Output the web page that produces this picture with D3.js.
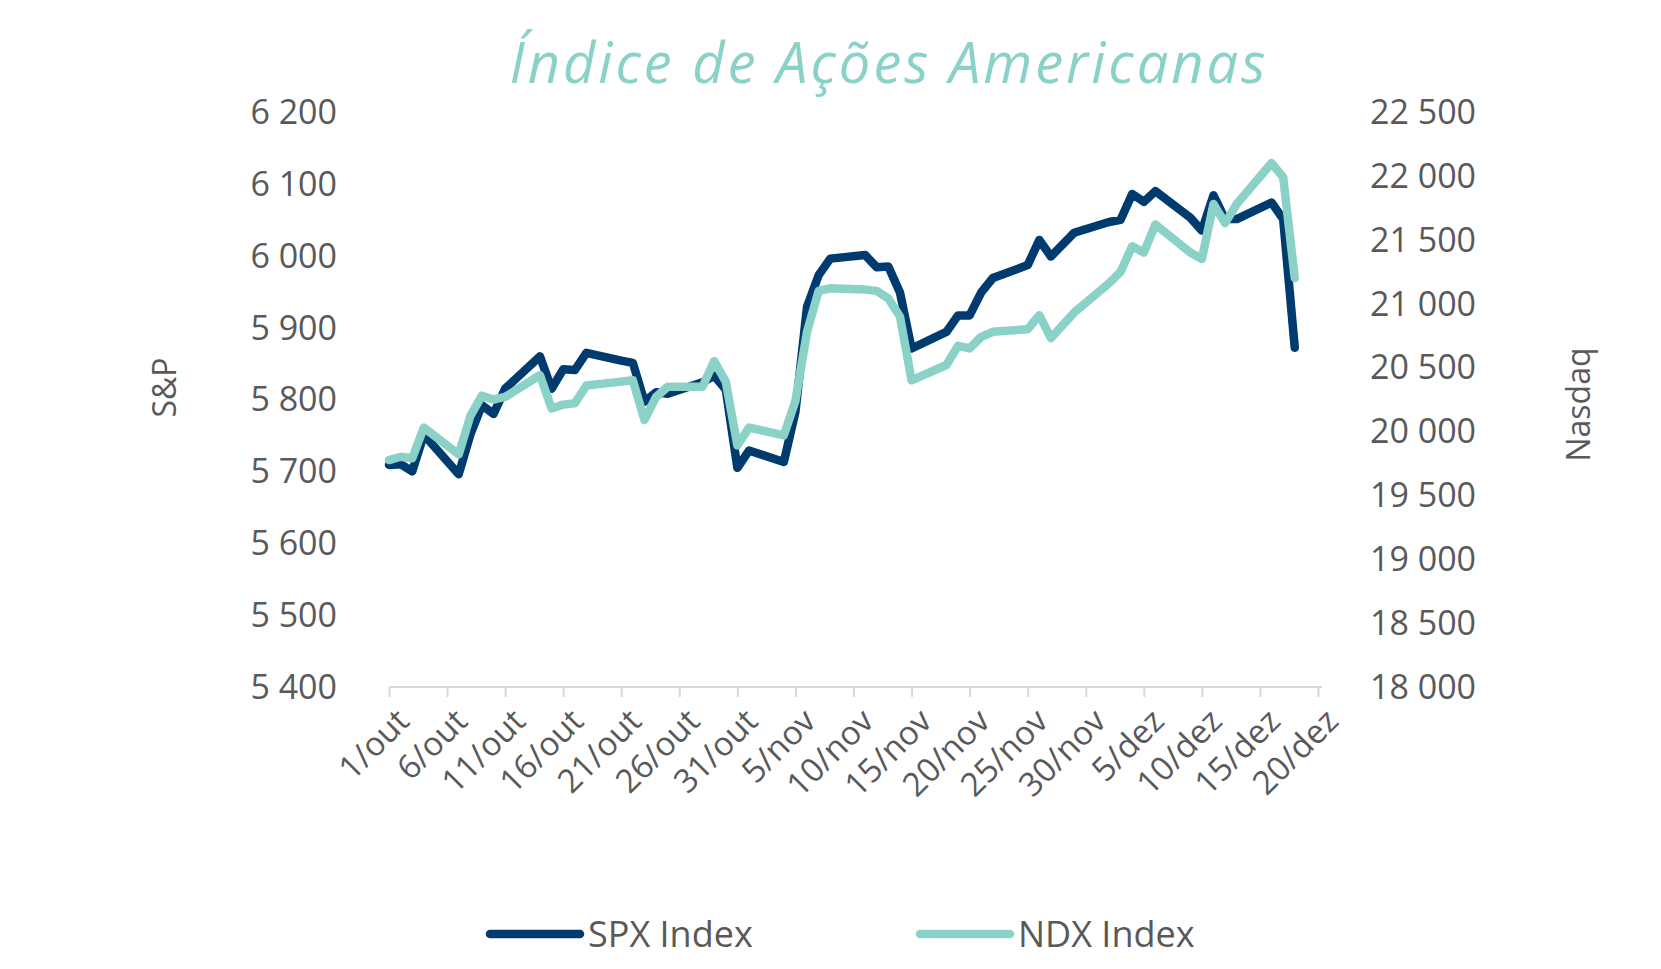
<!DOCTYPE html>
<html>
<head>
<meta charset="utf-8">
<script src="https://cdn.jsdelivr.net/npm/d3@7"></script>
<style>
  body { margin: 0; background: #fff; }
  text { font-family: "Open Sans", sans-serif; }
</style>
</head>
<body>
<svg id="chart" width="1661" height="969"></svg>
<script>
// trading days, 2024
const dates = ["10-01","10-02","10-03","10-04","10-07","10-08","10-09","10-10","10-11",
  "10-14","10-15","10-16","10-17","10-18","10-21","10-22","10-23","10-24","10-25",
  "10-28","10-29","10-30","10-31","11-01","11-04","11-05","11-06","11-07","11-08",
  "11-11","11-12","11-13","11-14","11-15","11-18","11-19","11-20","11-21","11-22",
  "11-25","11-26","11-27","11-29","12-02","12-03","12-04","12-05","12-06",
  "12-09","12-10","12-11","12-12","12-13","12-16","12-17","12-18"];

const spx = [5709,5710,5700,5751,5696,5751,5792,5780,5815,
  5860,5815,5842,5841,5865,5854,5851,5797,5810,5808,
  5824,5833,5814,5705,5729,5713,5783,5929,5973,5996,
  6001,5984,5985,5949,5871,5894,5917,5917,5949,5969,
  5987,6022,5999,6032,6047,6050,6086,6075,6090,
  6053,6035,6084,6051,6051,6074,6051,5872];

const ndx = [19776,19802,19790,20030,19820,20120,20280,20250,20270,
  20440,20180,20210,20220,20360,20390,20400,20090,20270,20350,
  20350,20550,20390,19890,20030,19970,20240,20780,21100,21120,
  21110,21100,21040,20900,20400,20520,20670,20650,20740,20780,
  20800,20910,20730,20930,21160,21250,21450,21400,21620,
  21400,21350,21780,21630,21780,22100,21990,21200];

const xTickLabels = ["1/out","6/out","11/out","16/out","21/out","26/out","31/out","5/nov",
  "10/nov","15/nov","20/nov","25/nov","30/nov","5/dez","10/dez","15/dez","20/dez"];

const leftTicks = [5400,5500,5600,5700,5800,5900,6000,6100,6200];
const rightTicks = [18000,18500,19000,19500,20000,20500,21000,21500,22000,22500];

const parse = d3.timeParse("%Y-%m-%d");
const days = dates.map(d => parse("2024-" + d));
const start = parse("2024-10-01");

const svg = d3.select("#chart");
const plotLeft = 389, plotRight = 1318, plotTop = 112, plotBottom = 687;
const gray = "#595959";
const fmt = v => d3.format(",")(v).replace(/,/g, " ");

const x = d3.scaleTime().domain([start, d3.timeDay.offset(start, 80)]).range([plotLeft, plotRight]);
const yL = d3.scaleLinear().domain([5400, 6200]).range([plotBottom, plotTop]);
const yR = d3.scaleLinear().domain([18000, 22500]).range([plotBottom, plotTop]);

// title
svg.append("text")
    .attr("x", 889).attr("y", 83)
    .attr("text-anchor", "middle")
    .attr("fill", "#8ad1c7")
    .style("font-size", "56px")
    .style("font-style", "italic")
    .style("letter-spacing", "3px")
    .text("Índice de Ações Americanas");

// x axis
const tickDates = xTickLabels.map((t, i) => d3.timeDay.offset(start, i * 5));
const xAxis = svg.append("g")
    .attr("transform", `translate(0,${plotBottom})`)
    .call(d3.axisBottom(x).tickValues(tickDates).tickSize(10).tickFormat(""));
xAxis.select(".domain").attr("stroke", "#d9d9d9").attr("stroke-width", 2)
    .attr("d", `M${plotLeft},0H${plotRight + 4}`);
xAxis.selectAll(".tick line").attr("stroke", "#d9d9d9").attr("stroke-width", 2);

svg.append("g").selectAll("text")
    .data(xTickLabels)
    .join("text")
    .attr("transform", (d, i) => `translate(${x(tickDates[i]) + 14},${plotBottom + 28}) rotate(-45)`)
    .attr("text-anchor", "end")
    .attr("dy", "0.35em")
    .attr("fill", gray)
    .style("font-size", "33px")
    .text(d => d);

// y axes
svg.append("g").selectAll("text")
    .data(leftTicks)
    .join("text")
    .attr("x", 337).attr("y", d => yL(d))
    .attr("dy", "0.35em")
    .attr("text-anchor", "end")
    .attr("fill", gray)
    .style("font-size", "34px")
    .text(fmt);

svg.append("g").selectAll("text")
    .data(rightTicks)
    .join("text")
    .attr("x", 1370).attr("y", d => yR(d))
    .attr("dy", "0.35em")
    .attr("fill", gray)
    .style("font-size", "34px")
    .text(fmt);

svg.append("text")
    .attr("transform", `translate(176,${(plotTop + plotBottom) / 2 - 12}) rotate(-90)`)
    .attr("text-anchor", "middle")
    .attr("fill", gray)
    .style("font-size", "32px")
    .text("S&P");

svg.append("text")
    .attr("transform", `translate(1590,${(plotTop + plotBottom) / 2 + 5}) rotate(-90)`)
    .attr("text-anchor", "middle")
    .attr("fill", gray)
    .style("font-size", "32px")
    .text("Nasdaq");

// lines
const spxLine = d3.line().x((d, i) => x(days[i])).y(d => yL(d));
const ndxLine = d3.line().x((d, i) => x(days[i])).y(d => yR(d));

svg.append("path").datum(spx)
    .attr("d", spxLine)
    .attr("fill", "none").attr("stroke", "#003b6f")
    .attr("stroke-width", 8.5).attr("stroke-linejoin", "round").attr("stroke-linecap", "round");

svg.append("path").datum(ndx)
    .attr("d", ndxLine)
    .attr("fill", "none").attr("stroke", "#8ad1c7")
    .attr("stroke-width", 8.5).attr("stroke-linejoin", "round").attr("stroke-linecap", "round");

// legend
const legend = [
  { name: "SPX Index", color: "#003b6f", x: 490 },
  { name: "NDX Index", color: "#8ad1c7", x: 920 }
];
const lg = svg.append("g").selectAll("g").data(legend).join("g")
    .attr("transform", d => `translate(${d.x},934)`);
lg.append("line").attr("x1", 0).attr("x2", 90)
    .attr("stroke", d => d.color).attr("stroke-width", 8.5).attr("stroke-linecap", "round");
lg.append("text").attr("x", 98).attr("dy", "0.35em")
    .attr("fill", gray).style("font-size", "36px")
    .text(d => d.name);
</script>
</body>
</html>
